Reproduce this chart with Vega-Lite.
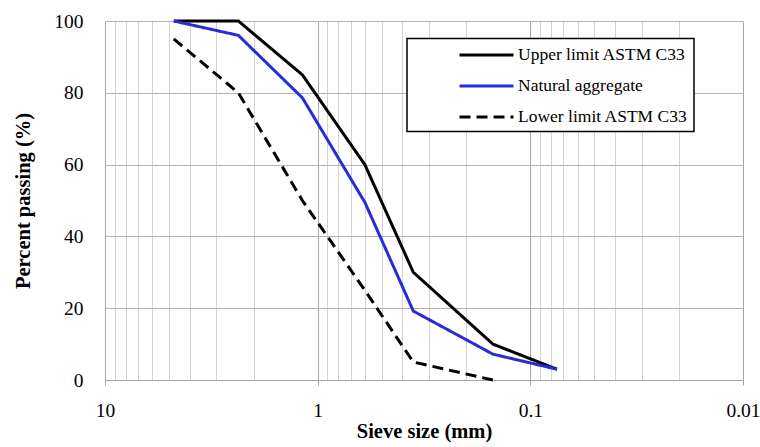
{
  "$schema": "https://vega.github.io/schema/vega-lite/v6.json",
  "width": 638,
  "height": 359,
  "autosize": {"type": "none"},
  "padding": {"left": 105, "top": 21, "right": 17, "bottom": 67},
  "background": "white",
  "config": {"view": {"stroke": null}, "font": "'Liberation Serif', 'DejaVu Serif', serif"},
  "data": {
    "values": [
      {"series": "Upper limit ASTM C33", "size": 4.75, "passing": 100},
      {"series": "Upper limit ASTM C33", "size": 2.36, "passing": 100},
      {"series": "Upper limit ASTM C33", "size": 1.18, "passing": 85},
      {"series": "Upper limit ASTM C33", "size": 0.6, "passing": 60},
      {"series": "Upper limit ASTM C33", "size": 0.355, "passing": 30},
      {"series": "Upper limit ASTM C33", "size": 0.15, "passing": 10},
      {"series": "Upper limit ASTM C33", "size": 0.075, "passing": 3},
      {"series": "Natural aggregate", "size": 4.75, "passing": 100},
      {"series": "Natural aggregate", "size": 2.36, "passing": 96},
      {"series": "Natural aggregate", "size": 1.18, "passing": 78.6},
      {"series": "Natural aggregate", "size": 0.6, "passing": 49.5},
      {"series": "Natural aggregate", "size": 0.355, "passing": 19.2},
      {"series": "Natural aggregate", "size": 0.15, "passing": 7.2},
      {"series": "Natural aggregate", "size": 0.075, "passing": 3},
      {"series": "Lower limit ASTM C33", "size": 4.75, "passing": 95},
      {"series": "Lower limit ASTM C33", "size": 2.36, "passing": 80},
      {"series": "Lower limit ASTM C33", "size": 1.18, "passing": 50},
      {"series": "Lower limit ASTM C33", "size": 0.6, "passing": 25},
      {"series": "Lower limit ASTM C33", "size": 0.355, "passing": 5},
      {"series": "Lower limit ASTM C33", "size": 0.15, "passing": 0}
    ]
  },
  "encoding": {
    "y": {
      "field": "passing",
      "type": "quantitative",
      "scale": {"domain": [0, 100], "nice": false},
      "axis": {
        "values": [0, 20, 40, 60, 80, 100],
        "grid": true,
        "gridColor": "#b3b3b3",
        "gridWidth": 1,
        "domain": false,
        "ticks": false,
        "labelFont": "'Liberation Serif', 'DejaVu Serif', serif",
        "labelFontSize": 19.5,
        "labelColor": "black",
        "labelPadding": 22,
        "title": "Percent passing (%)",
        "titleFont": "'Liberation Serif', 'DejaVu Serif', serif",
        "titleFontSize": 20.5,
        "titleFontWeight": "bold",
        "titleColor": "black",
        "titlePadding": 20
      }
    }
  },
  "layer": [
    {
      "mark": {"type": "point", "opacity": 0},
      "encoding": {
        "x": {
          "field": "size",
          "type": "quantitative",
          "scale": {"type": "log", "domain": [0.01, 10], "reverse": true, "nice": false},
          "axis": {
            "orient": "top",
            "values": [9, 8, 7, 6, 5, 4, 3, 2, 0.9, 0.8, 0.7, 0.6, 0.5, 0.4, 0.3, 0.2, 0.09, 0.08, 0.07, 0.06, 0.05, 0.04, 0.03, 0.02],
            "grid": true,
            "gridColor": "#d4d4d4",
            "gridWidth": 1,
            "labels": false,
            "ticks": false,
            "domain": false,
            "title": null
          }
        }
      }
    },
    {
      "mark": {"type": "line", "strokeJoin": "miter"},
      "encoding": {
        "x": {
          "field": "size",
          "type": "quantitative",
          "scale": {"type": "log", "domain": [0.01, 10], "reverse": true, "nice": false},
          "axis": {
            "orient": "bottom",
            "values": [10, 1, 0.1, 0.01],
            "format": "~g",
            "grid": true,
            "gridColor": "#a6a6a6",
            "gridWidth": 1,
            "domain": true,
            "domainColor": "#a6a6a6",
            "ticks": true,
            "tickColor": "#a6a6a6",
            "tickSize": 5,
            "labelFont": "'Liberation Serif', 'DejaVu Serif', serif",
            "labelFontSize": 19.5,
            "labelColor": "black",
            "labelPadding": 16,
            "labelFlush": false,
            "labelOverlap": false,
            "title": "Sieve size (mm)",
            "titleFont": "'Liberation Serif', 'DejaVu Serif', serif",
            "titleFontSize": 20.5,
            "titleFontWeight": "bold",
            "titleColor": "black",
            "titlePadding": 2
          }
        },
        "color": {
          "field": "series",
          "type": "nominal",
          "scale": {
            "domain": ["Upper limit ASTM C33", "Natural aggregate", "Lower limit ASTM C33"],
            "range": ["black", "#2b2bd6", "black"]
          },
          "legend": {
            "orient": "none",
            "legendX": 302,
            "legendY": 17.5,
            "title": null,
            "padding": 6,
            "strokeColor": "black",
            "fillColor": "white",
            "symbolType": "M-3,0H3",
            "symbolSize": 324,
            "symbolOffset": 63,
            "labelOffset": 21,
            "labelFont": "'Liberation Serif', 'DejaVu Serif', serif",
            "labelFontSize": 17.5,
            "labelColor": "black",
            "labelLimit": 400,
            "rowPadding": 12,
            "labelExpr": "datum.label + '\u00a0\u00a0\u00a0\u00a0\u00a0\u00a0\u00a0\u00a0\u00a0\u00a0'",
            "encode": {"legend": {"update": {"strokeWidth": {"value": 1.5}}}}
          }
        },
        "strokeDash": {
          "field": "series",
          "type": "nominal",
          "scale": {
            "domain": ["Upper limit ASTM C33", "Natural aggregate", "Lower limit ASTM C33"],
            "range": [[1, 0], [1, 0], [11, 6]]
          }
        },
        "strokeWidth": {
          "field": "series",
          "type": "nominal",
          "scale": {
            "domain": ["Upper limit ASTM C33", "Natural aggregate", "Lower limit ASTM C33"],
            "range": [3, 3, 2]
          }
        }
      }
    }
  ],
  "resolve": {"axis": {"x": "independent"}}
}
